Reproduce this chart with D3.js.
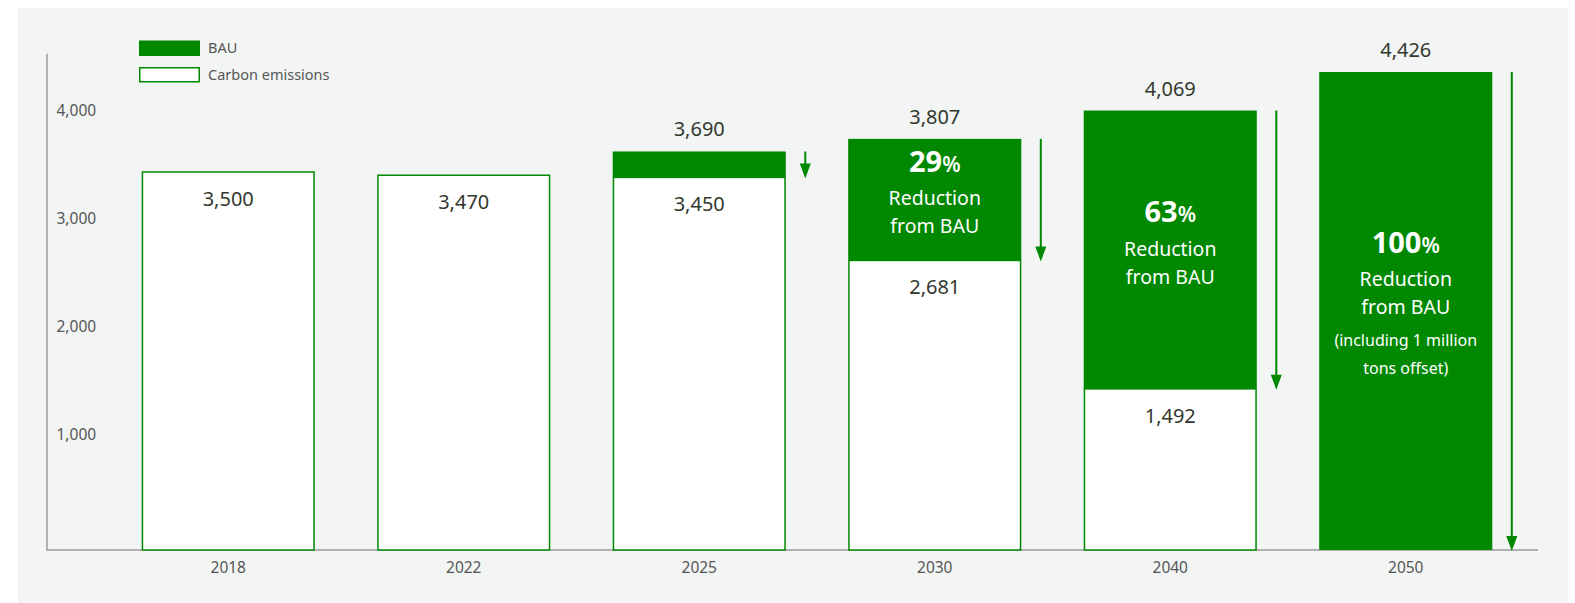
<!DOCTYPE html>
<html>
<head>
<meta charset="utf-8">
<script src="https://cdn.jsdelivr.net/npm/d3@7"></script>
<style>
  html, body { margin: 0; padding: 0; background: #ffffff; }
  svg { display: block; }
  text { font-family: "Noto Sans", "Open Sans", sans-serif; }
</style>
</head>
<body>
<svg id="chart" width="1575" height="603"></svg>
<script>
// Emissions path data (thousand tons CO2eq)
const years = ["2018", "2022", "2025", "2030", "2040", "2050"];
const emissions = [3500, 3470, 3450, 2681, 1492, 0];
const bau = [null, null, 3690, 3807, 4069, 4426];
const reductionPct = [null, null, null, 29, 63, 100];
const reductionNotes = [[], [], [], [], [], ["(including 1 million", "tons offset)"]];
const yTicks = [1000, 2000, 3000, 4000];
const legendItems = ["BAU", "Carbon emissions"];

const GREEN = "#008800";
const TEXT = "#33382f";
const AXIS_TEXT = "#555555";

const svg = d3.select("#chart");

// panel background
svg.append("rect")
  .attr("x", 18).attr("y", 8)
  .attr("width", 1550).attr("height", 595)
  .attr("fill", "#f2f5f4");

const baseY = 550;
const y = d3.scaleLinear().domain([0, 4600]).range([baseY, baseY - 4600 * 0.108]);
const x = d3.scaleBand().domain(years).range([141.7, 1492.3]).paddingInner(0.265).paddingOuter(0);

// y axis (labels sit to the right of the line)
const yAxis = svg.append("g")
  .attr("transform", "translate(46.5,0)")
  .call(d3.axisRight(y).tickValues(yTicks).tickFormat(d3.format(",")).tickSize(0).tickSizeOuter(0).tickPadding(10));
yAxis.select(".domain").attr("stroke", "#9a9a9a").attr("stroke-width", 1.5);
yAxis.selectAll("text")
  .attr("fill", AXIS_TEXT).attr("font-size", 15.5)
  .attr("dy", "-0.15em");

// x axis baseline and year labels
const xAxis = svg.append("g")
  .attr("transform", `translate(0,${baseY})`)
  .call(d3.axisBottom(x).tickSize(0).tickPadding(12));
xAxis.select(".domain").remove();
xAxis.selectAll("text")
  .attr("fill", AXIS_TEXT).attr("font-size", 15.5);
svg.append("line")
  .attr("x1", 46.5).attr("x2", 1538)
  .attr("y1", baseY).attr("y2", baseY)
  .attr("stroke", "#9a9a9a").attr("stroke-width", 1.5);

const rows = years.map((yr, i) => ({
  yr, em: emissions[i], bau: bau[i], pct: reductionPct[i], notes: reductionNotes[i]
}));

const bw = x.bandwidth();

// BAU segments (green, from emissions up to BAU)
svg.append("g").selectAll("rect")
  .data(rows.filter(d => d.bau != null))
  .join("rect")
  .attr("x", d => x(d.yr))
  .attr("y", d => y(d.bau))
  .attr("width", bw)
  .attr("height", d => y(d.em) - y(d.bau))
  .attr("fill", GREEN);

// carbon emissions (white bars with green outline)
svg.append("g").selectAll("rect")
  .data(rows.filter(d => d.em > 0))
  .join("rect")
  .attr("x", d => x(d.yr) + 0.75)
  .attr("y", d => y(d.em))
  .attr("width", bw - 1.5)
  .attr("height", d => baseY - y(d.em))
  .attr("fill", "#ffffff")
  .attr("stroke", GREEN)
  .attr("stroke-width", 1.5);

const fmt = d3.format(",");

// BAU totals above bars
svg.append("g").selectAll("text")
  .data(rows.filter(d => d.bau != null))
  .join("text")
  .attr("x", d => x(d.yr) + bw / 2)
  .attr("y", d => y(d.bau) - 22)
  .attr("dy", "0.35em")
  .attr("text-anchor", "middle")
  .attr("font-size", 20)
  .attr("fill", TEXT)
  .text(d => fmt(d.bau));

// emission values inside the white bars
svg.append("g").selectAll("text")
  .data(rows.filter(d => d.em > 0))
  .join("text")
  .attr("x", d => x(d.yr) + bw / 2)
  .attr("y", d => y(d.em) + 27)
  .attr("dy", "0.35em")
  .attr("text-anchor", "middle")
  .attr("font-size", 20)
  .attr("fill", TEXT)
  .text(d => fmt(d.em));

// reduction arrows beside the bars
const arrows = svg.append("g");
rows.filter(d => d.bau != null).forEach(d => {
  const ax = x(d.yr) + bw + 19.5;
  const top = y(d.bau);
  const tip = y(d.em) + 1;
  arrows.append("line")
    .attr("x1", ax).attr("x2", ax)
    .attr("y1", top).attr("y2", tip - 10)
    .attr("stroke", GREEN).attr("stroke-width", 2);
  arrows.append("path")
    .attr("d", `M${ax - 5.5},${tip - 15} L${ax + 5.5},${tip - 15} L${ax},${tip} Z`)
    .attr("fill", GREEN);
});

// reduction annotations inside the green segments
const lineOffsets = [0, 32, 60, 93, 121];
rows.filter(d => d.pct != null).forEach(d => {
  const cx = x(d.yr) + bw / 2;
  const nLines = 3 + d.notes.length;
  const span = lineOffsets[nLines - 1];
  const mid = (y(d.bau) + y(d.em)) / 2 - 3;
  const first = mid - span / 2;
  const g = svg.append("g").attr("fill", "#ffffff").attr("text-anchor", "middle");
  const t = g.append("text").attr("x", cx).attr("y", first).attr("dy", "0.35em");
  t.append("tspan").attr("font-size", 29).attr("font-weight", 700).text(d.pct);
  t.append("tspan").attr("font-size", 21).attr("font-weight", 600).text("%");
  g.append("text").attr("x", cx).attr("y", first + lineOffsets[1]).attr("dy", "0.35em")
    .attr("font-size", 19.5).text("Reduction");
  g.append("text").attr("x", cx).attr("y", first + lineOffsets[2]).attr("dy", "0.35em")
    .attr("font-size", 19.5).text("from BAU");
  d.notes.forEach((n, k) => {
    g.append("text").attr("x", cx).attr("y", first + lineOffsets[3 + k]).attr("dy", "0.35em")
      .attr("font-size", 16).text(n);
  });
});

// legend
const legend = svg.append("g");
legendItems.forEach((name, i) => {
  const ly = 40.5 + i * 26.5;
  legend.append("rect")
    .attr("x", i === 0 ? 139 : 139.75).attr("y", i === 0 ? ly : ly + 0.75)
    .attr("width", i === 0 ? 61 : 59.5).attr("height", i === 0 ? 15.5 : 14)
    .attr("fill", i === 0 ? GREEN : "#ffffff")
    .attr("stroke", i === 0 ? "none" : GREEN)
    .attr("stroke-width", 1.5);
  legend.append("text")
    .attr("x", 208).attr("y", ly + 7.75).attr("dy", "0.35em")
    .attr("font-size", 14.5)
    .attr("fill", AXIS_TEXT)
    .text(name);
});
</script>
</body>
</html>
